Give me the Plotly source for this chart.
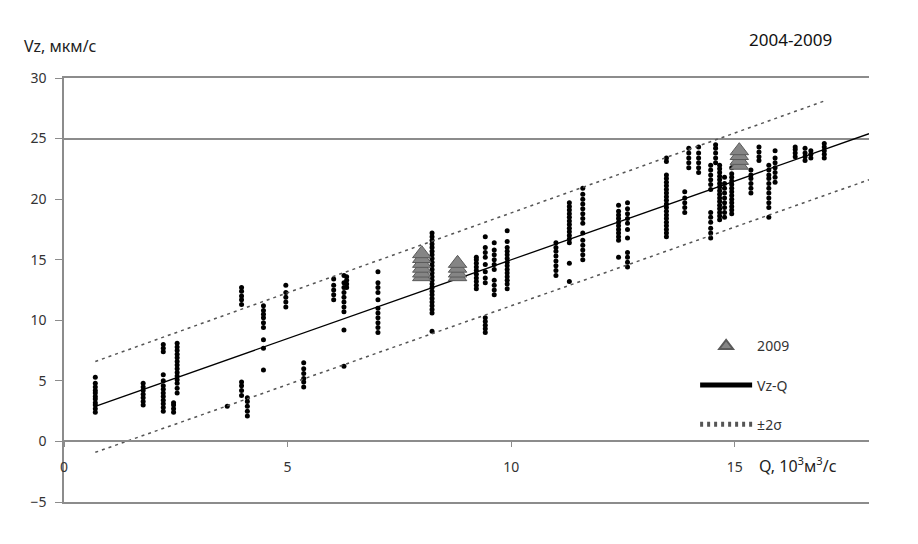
import plotly.graph_objects as go

# observations 2004-2009, one line per column of dots (Q in 10^3 m3/s, Vz in um/s)
obs_q = (
    [0.7] * 11 + [1.77] * 7 + [2.22] * 13 + [2.53] * 14 + [2.45] * 4 + [3.65]
    + [3.97] * 9 + [4.1] * 5 + [4.46] * 9 + [4.96] * 5 + [5.36] * 6 + [6.03] * 5
    + [6.26] * 10 + [6.32] * 4 + [7.02] * 11 + [8.23] * 24 + [9.22] * 10
    + [9.42] * 13 + [9.62] * 10 + [9.91] * 14 + [11.0] * 8 + [11.3] * 14
    + [11.6] * 14 + [12.4] * 11 + [12.6] * 11 + [13.47] * 20 + [13.88] * 5
    + [13.97] * 5 + [14.19] * 6 + [14.46] * 12 + [14.57] * 5 + [14.66] * 16
    + [14.77] * 9 + [14.93] * 13 + [15.36] * 6 + [15.54] * 4 + [15.76] * 11
    + [15.9] * 7 + [16.35] * 4 + [16.57] * 4 + [16.7] * 3 + [17.0] * 5
)
obs_vz = [
    2.4, 2.7, 3.0, 3.2, 3.5, 3.7, 4.0, 4.2, 4.5, 4.8, 5.3,
    3.0, 3.3, 3.6, 3.9, 4.2, 4.5, 4.8,
    7.4, 7.7, 8.0, 2.5, 2.8, 3.1, 3.4, 3.7, 4.0, 4.3, 4.6, 5.0, 5.5,
    4.0, 4.4, 4.8, 5.1, 5.4, 5.7, 6.0, 6.3, 6.6, 6.9, 7.2, 7.5, 7.8, 8.1,
    2.4, 2.7, 3.0, 3.2,
    2.9,
    11.3, 11.7, 12.0, 12.4, 12.7, 3.8, 4.2, 4.6, 4.9,
    2.1, 2.5, 2.9, 3.3, 3.6,
    9.4, 9.8, 10.2, 10.5, 10.8, 11.2, 8.4, 7.7, 5.9,
    11.1, 11.5, 11.9, 12.3, 12.9,
    4.5, 4.9, 5.2, 5.6, 6.0, 6.5,
    11.7, 12.1, 12.5, 12.9, 13.4,
    10.7, 11.1, 11.5, 11.9, 12.3, 12.7, 13.1, 13.7, 9.2, 6.2,
    12.7, 13.0, 13.3, 13.6,
    14.0, 13.1, 12.7, 12.3, 11.7, 11.0, 10.6, 10.2, 9.8, 9.4, 9.0,
    10.6, 10.9, 11.2, 11.5, 11.8, 12.1, 12.4, 12.7, 13.0, 13.3, 13.6, 13.9,
    14.2, 14.5, 14.8, 15.1, 15.4, 15.7, 16.0, 16.3, 16.6, 16.9, 17.2, 9.1,
    12.6, 12.9, 13.2, 13.5, 13.8, 14.1, 14.4, 14.7, 15.0, 15.2,
    13.1, 13.5, 14.0, 14.6, 15.2, 15.6, 16.0, 16.9, 9.0, 9.3, 9.6, 9.9, 10.2,
    12.1, 12.5, 12.9, 13.3, 14.2, 14.6, 15.0, 15.4, 15.8, 16.4,
    12.6, 13.0, 13.3, 13.6, 13.9, 14.2, 14.5, 14.8, 15.1, 15.4, 15.7, 16.0, 16.5, 17.4,
    13.7, 14.1, 14.5, 14.9, 15.3, 15.7, 16.0, 16.4,
    16.4, 16.7, 17.0, 17.3, 17.6, 17.9, 18.2, 18.5, 18.8, 19.1, 19.4, 19.7, 14.7, 13.2,
    15.0, 15.4, 15.8, 16.2, 16.6, 17.2, 18.0, 18.4, 18.8, 19.2, 19.6, 20.0, 20.4, 20.9,
    16.6, 16.9, 17.2, 17.5, 17.8, 18.1, 18.4, 18.7, 19.0, 19.5, 15.2,
    14.4, 14.8, 15.2, 15.6, 16.8, 17.5, 18.0, 18.4, 18.8, 19.2, 19.7,
    23.4, 23.1, 22.0, 21.7, 21.4, 21.1, 20.8, 20.5, 20.2, 19.9, 19.6, 19.3,
    19.0, 18.7, 18.4, 18.1, 17.8, 17.5, 17.2, 16.9,
    18.9, 19.3, 19.7, 20.1, 20.6,
    22.6, 23.0, 23.4, 23.8, 24.2,
    22.2, 22.6, 23.0, 23.4, 23.8, 24.3,
    22.8, 22.4, 22.0, 21.6, 21.2, 20.8, 18.9, 18.5, 18.1, 17.6, 17.2, 16.8,
    23.0, 23.4, 23.8, 24.2, 24.5,
    18.3, 18.6, 18.9, 19.2, 19.5, 19.8, 20.1, 20.4, 20.7, 21.0, 21.3, 21.6,
    21.9, 22.2, 22.5, 22.8,
    18.5, 18.9, 19.3, 19.7, 20.1, 20.5, 20.9, 21.3, 21.8,
    18.8, 19.1, 19.4, 19.7, 20.0, 20.3, 20.6, 20.9, 21.2, 21.5, 21.8, 22.1, 22.6,
    20.5, 20.9, 21.3, 21.7, 22.0, 22.4,
    23.2, 23.5, 23.9, 24.3,
    18.5, 19.3, 19.7, 20.1, 20.5, 20.9, 21.3, 21.7, 22.0, 22.4, 22.8,
    21.4, 21.8, 22.2, 22.6, 23.0, 23.4, 24.0,
    23.5, 23.8, 24.1, 24.3,
    23.2, 23.5, 23.8, 24.2,
    23.4, 23.7, 24.0,
    23.4, 23.7, 24.0, 24.3, 24.6,
]

# 2009 observations (triangles)
q_2009 = [8.0] * 6 + [8.8] * 4 + [15.1] * 4
vz_2009 = [13.6, 13.9, 14.3, 14.7, 15.1, 15.5, 13.6, 13.9, 14.3, 14.7, 22.8, 23.2, 23.6, 24.0]

# regression Vz-Q and the +-2 sigma band, endpoints
reg_q = [0.7, 18.0]
reg_vz = [2.9, 25.4]
upper_q = [0.7, 17.0]
upper_vz = [6.6, 28.1]
lower_q = [0.7, 18.0]
lower_vz = [-0.9, 21.6]

y_ticks = [-5, 0, 5, 10, 15, 20, 25, 30]
x_ticks = [0, 5, 10, 15]
grid_values = [25]

FONT = "Noto Sans"
AXIS_GREY = "#8c8c8c"

fig = go.Figure()
fig.add_trace(
    go.Scatter(
        x=obs_q, y=obs_vz, mode="markers", showlegend=False,
        marker={"symbol": "circle", "size": 5, "color": "black"},
    )
)
fig.add_trace(
    go.Scatter(
        x=upper_q, y=upper_vz, mode="lines", name="±2σ", legendgroup="c", legendrank=3,
        line={"color": "#555555", "width": 1.5, "dash": "3px,4px"},
    )
)
fig.add_trace(
    go.Scatter(
        x=lower_q, y=lower_vz, mode="lines", name="±2σ", legendgroup="c", showlegend=False,
        line={"color": "#555555", "width": 1.5, "dash": "3px,4px"},
    )
)
fig.add_trace(
    go.Scatter(
        x=reg_q, y=reg_vz, mode="lines", name="Vz-Q", legendgroup="b", legendrank=2,
        line={"color": "black", "width": 1.3},
    )
)
fig.add_trace(
    go.Scatter(
        x=q_2009, y=vz_2009, mode="markers", name="2009", legendgroup="a", legendrank=1,
        marker={"symbol": "triangle-up", "size": 16, "color": "#858585",
                "line": {"color": "#5a5a5a", "width": 1}},
    )
)
# helpers: grid-only y axis and a frame-only x axis (top/bottom border lines)
fig.add_trace(go.Scatter(x=[None], y=[None], yaxis="y2", showlegend=False, hoverinfo="skip"))
fig.add_trace(go.Scatter(x=[None], y=[None], xaxis="x2", showlegend=False, hoverinfo="skip"))

# the page puts the figure 8px in from the window edge
fig.update_layout(
    width=902,
    height=528,
    paper_bgcolor="white",
    plot_bgcolor="white",
    margin={"l": 56, "r": 41, "t": 70, "b": 34},
    font={"family": FONT, "size": 14, "color": "#333333"},
    xaxis={
        "range": [0, 18.0],
        "tickvals": x_ticks,
        "showgrid": False,
        "zeroline": False,
        "showline": True,
        "linecolor": AXIS_GREY,
        "linewidth": 1.5,
        "ticks": "outside",
        "ticklen": 5,
        "tickcolor": AXIS_GREY,
        "ticklabelstandoff": 8,
        "anchor": "free",
        "position": 5 / 35,
        "automargin": False,
    },
    xaxis2={
        "range": [0, 18.0],
        "overlaying": "x",
        "anchor": "y",
        "showline": True,
        "mirror": True,
        "linecolor": AXIS_GREY,
        "linewidth": 1.5,
        "showgrid": False,
        "zeroline": False,
        "showticklabels": False,
        "ticks": "",
        "automargin": False,
    },
    yaxis={
        "range": [-5, 30],
        "tickvals": y_ticks,
        "showgrid": False,
        "zeroline": False,
        "showline": True,
        "linecolor": AXIS_GREY,
        "linewidth": 1.5,
        "ticks": "outside",
        "ticklen": 7,
        "tickcolor": AXIS_GREY,
        "ticklabelstandoff": 6,
        "automargin": False,
    },
    yaxis2={
        "range": [-5, 30],
        "overlaying": "y",
        "tickvals": grid_values,
        "showticklabels": False,
        "showgrid": True,
        "gridcolor": AXIS_GREY,
        "gridwidth": 1.5,
        "zeroline": False,
        "showline": False,
        "automargin": False,
    },
    legend={
        "x": 0.784,
        "y": 0.405,
        "xanchor": "left",
        "yanchor": "top",
        "traceorder": "grouped",
        "tracegroupgap": 18,
        "itemwidth": 52,
        "itemsizing": "constant",
        "bgcolor": "rgba(0,0,0,0)",
        "font": {"family": FONT, "size": 14, "color": "#333333"},
    },
    annotations=[
        {"text": "Vz, мкм/с", "xref": "paper", "yref": "paper", "x": -0.052, "y": 1.075,
         "xanchor": "left", "yanchor": "middle", "showarrow": False,
         "font": {"family": FONT, "size": 16, "color": "#222222"}},
        {"text": "2004-2009", "xref": "paper", "yref": "paper", "x": 0.902, "y": 1.09,
         "xanchor": "center", "yanchor": "middle", "showarrow": False,
         "font": {"family": FONT, "size": 17, "color": "#111111"}},
        {"text": "Q, 10<sup>3</sup>м<sup>3</sup>/с", "xref": "paper", "yref": "paper",
         "x": 0.861, "y": 0.087, "xanchor": "left", "yanchor": "middle", "showarrow": False,
         "font": {"family": FONT, "size": 16, "color": "#222222"}},
    ],
)

fig.write_html("out.html")
